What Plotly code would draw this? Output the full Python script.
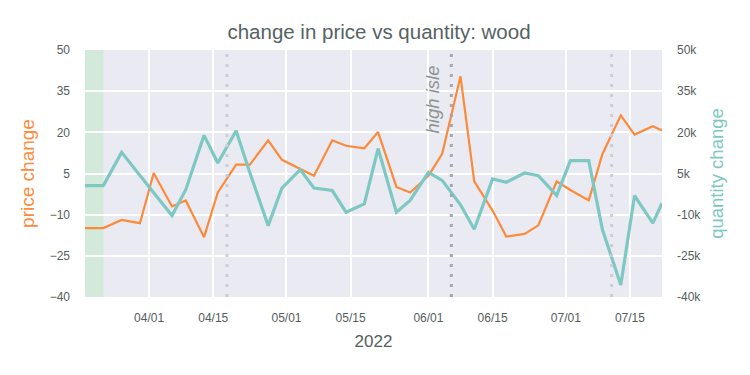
import plotly.graph_objects as go
import pandas as pd

start = pd.Timestamp("2022-03-18")
day_offsets = [0, 4, 8, 12, 15, 19, 22, 26, 29, 33, 36, 40, 43, 47, 50, 54, 57, 61, 64,
               68, 71, 75, 78, 82, 85, 89, 92, 96, 99, 103, 106, 110, 113, 117, 120, 124, 126]
dates = [start + pd.Timedelta(days=d) for d in day_offsets]

price_change = [-14.9, -14.9, -11.9, -13.1, 5.2, -7.0, -4.8, -18.2, -1.9, 8.2, 8.2, 17.1, 10.0,
                6.8, 4.2, 17.1, 15.1, 14.2, 20.1, 0.1, -1.9, 4.2, 12.2, 40.4, 2.1, -8.5, -18.0,
                -17.0, -13.9, 2.1, -1.0, -4.8, 12.1, 26.2, 19.2, 22.2, 20.7]
quantity_change = [600, 600, 12700, 4100, -2000, -10300, -900, 18900, 8800, 20600, 5300, -14000,
                   -300, 6400, -300, -1200, -9100, -6100, 14100, -9100, -4800, 5400, 2500, -6400,
                   -15300, 3000, 1800, 5200, 4200, -3000, 9700, 9700, -15500, -35600, -3100,
                   -13100, -5800]

event_dates = ["2022-04-18", "2022-06-06", "2022-07-11"]
event_labels = ["", "high isle", ""]
shade_range = ["2022-03-18", "2022-03-22"]

x_tickvals = ["2022-04-01", "2022-04-15", "2022-05-01", "2022-05-15",
              "2022-06-01", "2022-06-15", "2022-07-01", "2022-07-15"]
x_ticktext = ["04/01", "04/15", "05/01", "05/15", "06/01", "06/15", "07/01", "07/15"]
y_left_ticks = [-40, -25, -10, 5, 20, 35, 50]
y_left_text = ["\u221240", "\u221225", "\u221210", "5", "20", "35", "50"]
y_right_ticks = [-40000, -25000, -10000, 5000, 20000, 35000, 50000]
y_right_text = ["-40k", "-25k", "-10k", "5k", "20k", "35k", "50k"]

ORANGE = "#fd8a3b"
TEAL = "#7ec8c4"
TXT = "#555e5e"

fig = go.Figure()
fig.add_trace(go.Scatter(x=dates, y=price_change, mode="lines", name="price",
                         line=dict(color=ORANGE, width=2.2), yaxis="y"))
fig.add_trace(go.Scatter(x=dates, y=quantity_change, mode="lines", name="quantity",
                         line=dict(color=TEAL, width=3.2), yaxis="y2"))

fig.add_vrect(x0=shade_range[0], x1=shade_range[1], fillcolor="#d3eadb", opacity=1,
              line_width=0, layer="below")

for d, lab in zip(event_dates, event_labels):
    col = "#a6a6ae" if lab else "#cdcdd6"
    fig.add_shape(type="line", x0=d, x1=d, xref="x", y0=0, y1=1, yref="paper",
                  line=dict(color=col, width=3, dash="3px,7px"), layer="above")
    if lab:
        fig.add_annotation(x=d, y=0.945, xref="x", yref="paper", text="<i>" + lab + "</i>",
                           textangle=-90, showarrow=False, xanchor="right", yanchor="top",
                           xshift=-6, font=dict(size=18.5, color="#8d9494"))

# the page body has an 8px margin, so the figure is drawn 8px in from the top-left
fig.update_layout(
    width=742, height=367,
    margin=dict(l=77, r=88, t=42, b=78, autoexpand=False),
    paper_bgcolor="white", plot_bgcolor="#eaeaf2",
    font=dict(family="Liberation Sans, Arial, sans-serif", color=TXT, size=12),
    showlegend=False,
    title=dict(text="change in price vs quantity: wood", x=0.5, xanchor="center",
               y=0.935, yanchor="middle", font=dict(size=20.5, color="#566363")),
    xaxis=dict(range=["2022-03-18", "2022-07-22"], tickvals=x_tickvals, ticktext=x_ticktext,
               showgrid=True, gridcolor="white", gridwidth=2, zeroline=False,
               showline=False, ticks="", tickfont=dict(size=12, color=TXT),
               ticklabelstandoff=12, automargin=False,
               title=dict(text="2022", font=dict(size=17, color=TXT), standoff=11)),
    yaxis=dict(range=[-40, 50], tickvals=y_left_ticks, ticktext=y_left_text,
               showgrid=True, gridcolor="white", gridwidth=2, zeroline=False,
               ticks="", tickfont=dict(size=12, color=TXT), ticklabelstandoff=14,
               automargin=False,
               title=dict(text="price change", font=dict(size=19, color=ORANGE), standoff=9)),
    yaxis2=dict(range=[-40000, 50000], tickvals=y_right_ticks, ticktext=y_right_text,
                overlaying="y", side="right", showgrid=False, zeroline=False,
                ticks="", tickfont=dict(size=12, color=TXT), ticklabelstandoff=14,
                automargin=False,
                title=dict(text="quantity change", font=dict(size=18.5, color=TEAL), standoff=9)),
)

fig.write_html("out.html")
